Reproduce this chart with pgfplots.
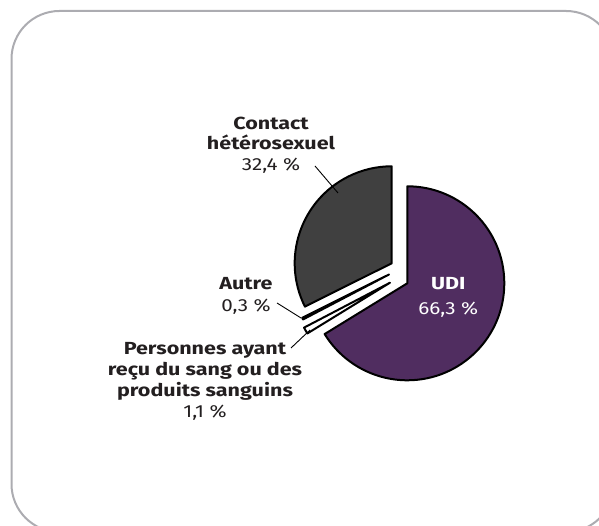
\documentclass[border=0pt]{standalone}
\usepackage{pgfplots}
\pgfplotsset{compat=1.18}
\usepackage{fontspec}
\setmainfont{Fira Sans}
\newfontfamily\lblreg{Fira Sans}[FakeStretch=1.18]
\newfontfamily\lblbold{Fira Sans}[FakeStretch=1.23]
\newcommand{\B}[1]{{\lblbold\bfseries #1}}
\definecolor{udi}{RGB}{80,45,96}
\definecolor{contact}{RGB}{64,64,64}
\definecolor{framegray}{RGB}{172,172,177}
\definecolor{txt}{RGB}{35,31,32}
\begin{document}
\begin{tikzpicture}
% shares (%), drawn clockwise from 12 o'clock
\def\vUDI{66.3}\def\vSang{1.1}\def\vAutre{0.3}\def\vContact{32.4}
\pgfmathsetmacro{\tot}{\vUDI+\vSang+\vAutre+\vContact}
\pgfmathsetmacro{\aA}{90-\vUDI/\tot*360}
\pgfmathsetmacro{\aB}{\aA-\vSang/\tot*360}
\pgfmathsetmacro{\aC}{\aB-\vAutre/\tot*360}
\pgfmathsetmacro{\aD}{\aC-\vContact/\tot*360}
\useasboundingbox (0,0) rectangle (599pt,526pt);
\draw[framegray, line width=2pt, rounded corners=48pt] (11.5pt,-6pt) rectangle (614pt,515pt);
\begin{axis}[at={(0,0)}, anchor=south west, scale only axis,
  width=599pt, height=526pt, xmin=0, xmax=599, ymin=0, ymax=526,
  hide axis, clip=false, no markers]
\addplot[fill=udi, draw=black, line width=2pt, line join=round]
  coordinates {(407.3,242.7)} -- ++(90:97pt) arc[start angle=90, end angle=\aA, radius=97pt] -- cycle;
\addplot[fill=white, draw=black, line width=2pt, line join=round]
  coordinates {(390,243.3)} -- ++(\aA:97pt) arc[start angle=\aA, end angle=\aB, radius=97pt] -- cycle;
\addplot[fill=black, draw=black, line width=2pt, line join=round]
  coordinates {(389,251.5)} -- ++(\aB:97pt) arc[start angle=\aB, end angle=\aC, radius=97pt] -- cycle;
\addplot[fill=contact, draw=black, line width=2pt, line join=round]
  coordinates {(391.7,262.7)} -- ++(\aC:97pt) arc[start angle=\aC, end angle=\aD, radius=97pt] -- cycle;
% leader lines
\draw[black, line width=0.9pt] (axis cs:315,360) -- (axis cs:338,333);
\draw[black, line width=0.9pt] (axis cs:277,223) -- (axis cs:301,208);
\draw[black, line width=0.9pt] (axis cs:291,178) -- (axis cs:310,196);
% labels
\node[align=center, font=\lblreg\fontsize{17.5}{20.3}\selectfont, text=txt] at (axis cs:271,381)
  {\B{Contact}\\\B{hétérosexuel}\\32,4~\%};
\node[align=center, font=\lblreg\fontsize{17.5}{21.5}\selectfont, text=txt] at (axis cs:246,230)
  {\B{Autre}\\0,3~\%};
\node[align=center, font=\lblreg\fontsize{17.5}{21}\selectfont, text=txt] at (axis cs:205,144.3)
  {\B{Personnes ayant}\\\B{reçu du sang ou des}\\\B{produits sanguins}\\1,1~\%};
\node[align=center, font=\lblreg\fontsize{17.5}{25.5}\selectfont, text=white] at (axis cs:448.3,228.5)
  {\B{UDI}\\66,3~\%};
\end{axis}
\end{tikzpicture}
\end{document}
